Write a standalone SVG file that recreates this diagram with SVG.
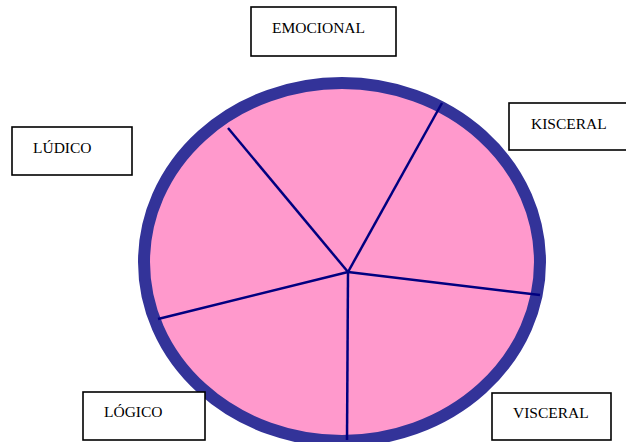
<svg xmlns="http://www.w3.org/2000/svg" width="626" height="442" viewBox="0 0 626 442">
<style>
.box{fill:#fff;stroke:#000;stroke-width:1.6}
.lbl{font-family:"Liberation Serif","Times New Roman",serif;font-size:15.5px;fill:#000}
.spoke{stroke:#000080;stroke-width:2.5;fill:none}
</style>
<rect width="626" height="442" fill="#fff"/>
<g id="circle">
<ellipse cx="342" cy="262" rx="198" ry="179" fill="#ff99cc" stroke="#333399" stroke-width="12"/>
</g>
<g id="connectors">
<line class="spoke" x1="348" y1="272" x2="228" y2="128"/>
<line class="spoke" x1="348" y1="272" x2="442" y2="103"/>
<line class="spoke" x1="348" y1="272" x2="540" y2="295"/>
<line class="spoke" x1="348" y1="272" x2="347" y2="440"/>
<line class="spoke" x1="348" y1="272" x2="158" y2="319"/>
</g>
<g id="emocional"><rect class="box" x="251" y="7" width="145" height="49"/><text class="lbl" x="272" y="33">EMOCIONAL</text></g>
<g id="kisceral"><rect class="box" x="509" y="103" width="130" height="47"/><text class="lbl" x="531" y="129">KISCERAL</text></g>
<g id="ludico"><rect class="box" x="12" y="127" width="120" height="48"/><text class="lbl" x="33" y="153">LÚDICO</text></g>
<g id="logico"><rect class="box" x="83" y="392" width="122" height="48"/><text class="lbl" x="104" y="417">LÓGICO</text></g>
<g id="visceral"><rect class="box" x="492" y="393" width="119" height="47"/><text class="lbl" x="513" y="418">VISCERAL</text></g>
</svg>
